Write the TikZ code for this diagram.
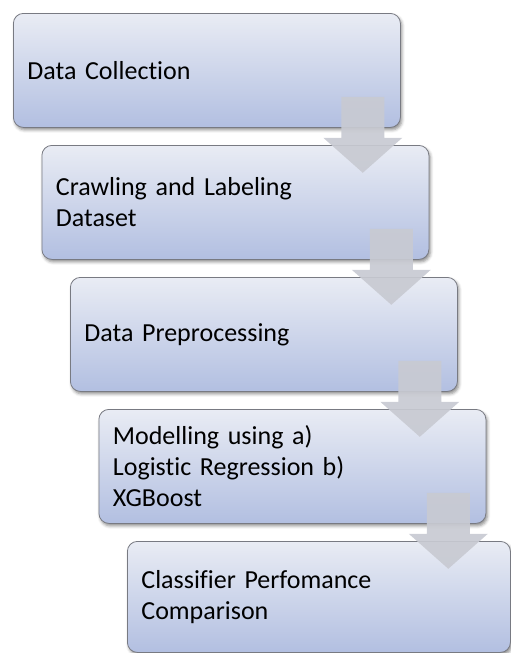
\documentclass[tikz,border=0pt]{standalone}
\usepackage{fontspec}
\setmainfont{Carlito}[Ligatures={NoCommon}]
\usetikzlibrary{calc,shadows.blur}

\definecolor{boxtop}{RGB}{233,236,244}
\definecolor{boxbottom}{RGB}{178,191,225}
\definecolor{boxedge}{RGB}{120,122,130}
\definecolor{arrowgray}{RGB}{200,202,210}

\tikzset{
  stage/.style={
    rectangle, rounded corners=10pt, anchor=north west,
    minimum width=387pt, minimum height=114pt,
    inner xsep=14pt, inner ysep=0pt,
    text width=359pt, align=left,
    top color=boxtop, bottom color=boxbottom,
    draw=boxedge, line width=0.8pt,
    blur shadow={shadow xshift=1.5pt, shadow yshift=-2.5pt,
                 shadow blur radius=3pt, shadow opacity=45},
    font=\fontsize{26}{31}\selectfont
  },
  flowfill/.style={fill=arrowgray, fill opacity=0.92}
}

% down arrow hanging from the lower right of a stage box
\newcommand\stagearrow[1]{%
  \fill[flowfill] ($(#1.south east)+(-59.5,-31)$)
    -- ++(0,41) -- ++(-18,0) -- ++(39.5,35) -- ++(39.5,-35)
    -- ++(-18,0) -- ++(0,-41) -- cycle;}

\begin{document}
\begin{tikzpicture}[x=1pt,y=-1pt]
  \useasboundingbox (0,0) rectangle (511,653);

  \node[stage] (s1) at (13,13)    {Data Collection};
  \node[stage] (s2) at (41.5,145) {Crawling and Labeling\\Dataset};
  \node[stage] (s3) at (70,277)   {Data Preprocessing};
  \node[stage] (s4) at (98.5,409) {Modelling using a)\\Logistic Regression b)\\XGBoost};
  \node[stage, minimum width=383pt, minimum height=111pt, text width=355pt]
       (s5) at (127,541) {Classifier Perfomance\\Comparison};

  \stagearrow{s1}
  \stagearrow{s2}
  \stagearrow{s3}
  \stagearrow{s4}
\end{tikzpicture}
\end{document}
